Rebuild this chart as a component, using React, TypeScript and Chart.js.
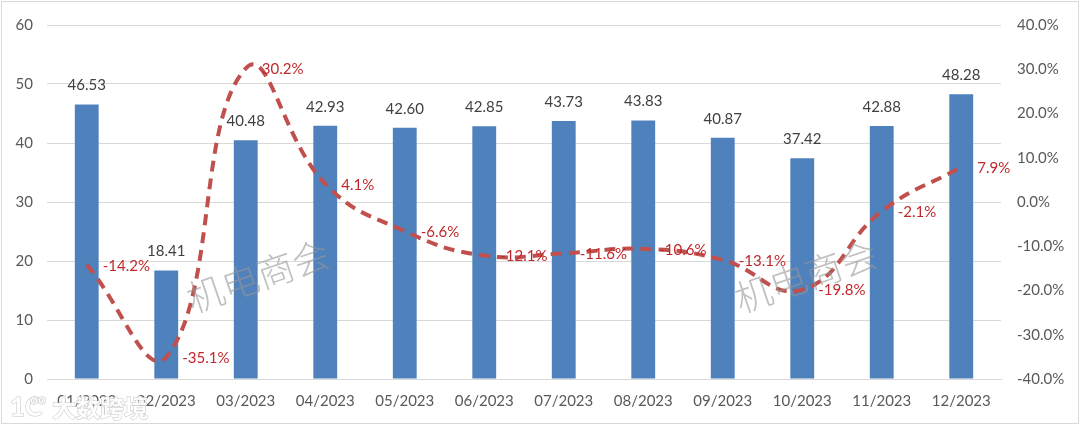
import React, { useEffect, useRef } from "react";
import { Chart, registerables } from "chart.js";

Chart.register(...registerables);

const categories = ["01/2023", "02/2023", "03/2023", "04/2023", "05/2023", "06/2023", "07/2023", "08/2023", "09/2023", "10/2023", "11/2023", "12/2023"];
const barValues = [46.53, 18.41, 40.48, 42.93, 42.6, 42.85, 43.73, 43.83, 40.87, 37.42, 42.88, 48.28];
const growthValues = [-14.2, -35.1, 30.2, 4.1, -6.6, -12.1, -11.6, -10.6, -13.1, -19.8, -2.1, 7.9];
const leftTicks = [0, 10, 20, 30, 40, 50, 60];
const rightTicks = [-40, -30, -20, -10, 0, 10, 20, 30, 40];
const watermarkText = "机电商会";
const logoText = "大数跨境";

const FONT = "Lato, 'Liberation Sans', sans-serif";

const labelPlugin = {
  id: "customLabels",
  afterDatasetsDraw(chart: any) {
    const ctx = chart.ctx;
    ctx.save();
    const barMeta = chart.getDatasetMeta(0);
    ctx.font = `15px ${FONT}`;
    ctx.fillStyle = "#404040";
    ctx.textAlign = "center";
    ctx.textBaseline = "middle";
    barMeta.data.forEach((el: any, i: number) => {
      ctx.fillText(barValues[i].toFixed(2), el.x, el.y - 19);
    });
    const lineMeta = chart.getDatasetMeta(1);
    ctx.fillStyle = "#C0282D";
    ctx.textAlign = "left";
    lineMeta.data.forEach((el: any, i: number) => {
      ctx.fillText(growthValues[i].toFixed(1) + "%", el.x + 16, el.y + 1);
    });
    ctx.restore();
  },
  afterDraw(chart: any) {
    const ctx = chart.ctx;
    ctx.save();
    ctx.font = `300 37px 'Noto Sans CJK SC', sans-serif`;
    ctx.fillStyle = "rgba(150,150,150,0.6)";
    ctx.textAlign = "center";
    ctx.textBaseline = "middle";
    const spots = [
      [258, 276],
      [806, 276],
    ];
    spots.forEach(([x, y]) => {
      ctx.save();
      ctx.translate(x, y);
      ctx.rotate((-19 * Math.PI) / 180);
      ctx.fillText(watermarkText, 0, 0);
      ctx.restore();
    });
    ctx.font = `bold 24px 'Noto Sans CJK SC', sans-serif`;
    ctx.fillStyle = "rgba(255,255,255,0.92)";
    ctx.strokeStyle = "rgba(185,185,185,0.8)";
    ctx.lineWidth = 1;
    ctx.textAlign = "left";
    ctx.textBaseline = "middle";
    ctx.strokeText(logoText, 52, 408);
    ctx.fillText(logoText, 52, 408);
    ctx.font = `bold 26px ${FONT}`;
    ctx.strokeText("1C", 10, 408);
    ctx.fillText("1C", 10, 408);
    ctx.font = `bold 14px ${FONT}`;
    ctx.strokeText("oo", 30, 399);
    ctx.fillText("oo", 30, 399);
    ctx.strokeStyle = "#D9D9D9";
    ctx.lineWidth = 1;
    ctx.strokeRect(1.5, 1.5, chart.width - 3, chart.height - 3);
    ctx.restore();
  },
};

export default function App() {
  const canvasRef = useRef<HTMLCanvasElement | null>(null);

  useEffect(() => {
    document.body.style.margin = "0";
    const canvas = canvasRef.current;
    if (!canvas) return;
    const chart = new Chart(canvas, {
      type: "bar",
      data: {
        labels: categories,
        datasets: [
          {
            type: "bar",
            data: barValues,
            backgroundColor: "#4F81BD",
            borderWidth: 0,
            barPercentage: 0.6,
            categoryPercentage: 0.5,
            yAxisID: "y",
            order: 2,
          },
          {
            type: "line",
            data: growthValues,
            borderColor: "rgba(192,80,77,1)",
            borderWidth: 4,
            borderDash: [11, 7],
            tension: 0.45,
            pointRadius: 0,
            fill: false,
            yAxisID: "y1",
            order: 1,
          } as any,
        ],
      },
      options: {
        responsive: false,
        animation: false,
        layout: { padding: { top: 22, left: 0, right: 0, bottom: 0 } },
        plugins: { legend: { display: false }, tooltip: { enabled: false }, title: { display: false } },
        scales: {
          x: {
            grid: { display: false, drawTicks: false },
            border: { display: true, color: "#D9D9D9" },
            ticks: { padding: 13, color: "#595959", font: { size: 15, family: FONT }, maxRotation: 0 },
            afterFit(s: any) {
              s.height = 46;
            },
          },
          y: {
            position: "left",
            min: leftTicks[0],
            max: leftTicks[leftTicks.length - 1],
            afterBuildTicks(s: any) {
              s.ticks = leftTicks.map((v) => ({ value: v }));
            },
            grid: { color: "#D9D9D9", drawTicks: false },
            border: { display: false },
            ticks: { padding: 14, color: "#595959", font: { size: 15, family: FONT } },
            afterFit(s: any) {
              s.width = 47;
            },
          },
          y1: {
            position: "right",
            min: rightTicks[0],
            max: rightTicks[rightTicks.length - 1],
            afterBuildTicks(s: any) {
              s.ticks = rightTicks.map((v) => ({ value: v }));
            },
            grid: { display: false, drawTicks: false },
            border: { display: false },
            ticks: {
              padding: 16,
              color: "#595959",
              font: { size: 15, family: FONT },
              callback: (v: any) => Number(v).toFixed(1) + "%",
            },
            afterFit(s: any) {
              s.width = 79;
            },
          },
        },
      } as any,
      plugins: [labelPlugin],
    });
    return () => chart.destroy();
  }, []);

  return (
    <div style={{ width: 1080, height: 425, background: "#fff" }}>
      <canvas ref={canvasRef} width={1080} height={425} style={{ display: "block" }} />
    </div>
  );
}
